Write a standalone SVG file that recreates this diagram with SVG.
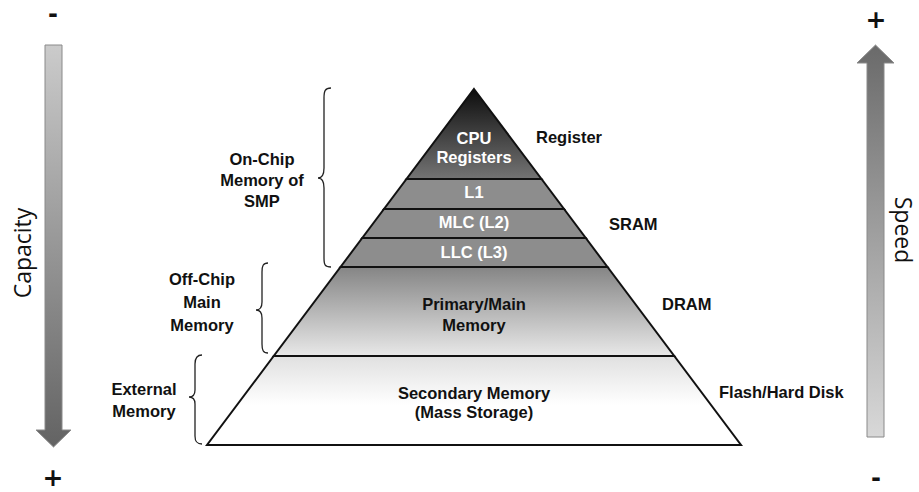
<svg xmlns="http://www.w3.org/2000/svg" width="919" height="492" viewBox="0 0 919 492">
<style>
.lbl{font-family:"Liberation Sans",Arial,sans-serif;font-weight:bold;font-size:16.5px;fill:#111;text-anchor:middle}
.lft{font-family:"Liberation Sans",Arial,sans-serif;font-weight:bold;font-size:16.5px;fill:#111;text-anchor:start}
.wht{font-family:"Liberation Sans",Arial,sans-serif;font-weight:bold;font-size:16.5px;fill:#fff;text-anchor:middle}
.axis{font-family:"Open Sans","DejaVu Sans",sans-serif;font-size:23px;fill:#111;text-anchor:middle}
.plus{font-family:"DejaVu Sans",sans-serif;font-weight:bold;font-size:25px;fill:#111;text-anchor:middle}
.minus{font-family:"DejaVu Sans",sans-serif;font-weight:bold;font-size:24px;fill:#111;text-anchor:middle}
.lvl{stroke:#111;stroke-width:2;stroke-linejoin:miter}
.brace{fill:none;stroke:#222;stroke-width:1.3}
</style>
<defs>
<linearGradient id="gTop" x1="0" y1="89" x2="0" y2="179" gradientUnits="userSpaceOnUse">
<stop offset="0" stop-color="#0d0d0d"/><stop offset="1" stop-color="#747474"/>
</linearGradient>
<linearGradient id="gMain" x1="0" y1="267" x2="0" y2="356" gradientUnits="userSpaceOnUse">
<stop offset="0" stop-color="#858585"/><stop offset="1" stop-color="#e8e8e8"/>
</linearGradient>
<linearGradient id="gSec" x1="0" y1="356" x2="0" y2="445" gradientUnits="userSpaceOnUse">
<stop offset="0" stop-color="#e0e0e0"/><stop offset="0.55" stop-color="#ffffff"/><stop offset="1" stop-color="#ffffff"/>
</linearGradient>
<linearGradient id="gCap" x1="0" y1="45" x2="0" y2="447" gradientUnits="userSpaceOnUse">
<stop offset="0" stop-color="#cbcbcb"/><stop offset="1" stop-color="#636363"/>
</linearGradient>
<linearGradient id="gSpd" x1="0" y1="45" x2="0" y2="437" gradientUnits="userSpaceOnUse">
<stop offset="0" stop-color="#6a6a6a"/><stop offset="1" stop-color="#d8d8d8"/>
</linearGradient>
</defs>

<g id="capacity-axis">
<polygon points="45,45 62,45 62,430 71,430 53.5,447 36,430 45,430" fill="url(#gCap)" stroke="#8a8a8a" stroke-width="1"/>
<text class="minus" x="53" y="22">-</text>
<text class="plus" x="53" y="486">+</text>
<text class="axis" transform="translate(31,253) rotate(-90)" x="0" y="0">Capacity</text>
</g>

<g id="speed-axis">
<polygon points="867,437 884,437 884,63 894,63 875.5,45 857,63 867,63" fill="url(#gSpd)" stroke="#8a8a8a" stroke-width="1"/>
<text class="plus" x="876" y="28">+</text>
<text class="minus" x="876" y="486">-</text>
<text class="axis" transform="translate(895,230) rotate(90)" x="0" y="0">Speed</text>
</g>

<g id="cpu-registers">
<polygon class="lvl" points="474,89 541.5,179 406.5,179" fill="url(#gTop)"/>
<text class="wht" x="474" y="144">CPU</text>
<text class="wht" x="474" y="163">Registers</text>
</g>
<g id="l1">
<polygon class="lvl" points="406.5,179 541.5,179 564,209 384,209" fill="#8d8d8d"/>
<text class="wht" x="474" y="198">L1</text>
</g>
<g id="l2">
<polygon class="lvl" points="384,209 564,209 585.75,238 362.25,238" fill="#8d8d8d"/>
<text class="wht" x="474" y="228">MLC (L2)</text>
</g>
<g id="l3">
<polygon class="lvl" points="362.25,238 585.75,238 607.5,267 340.5,267" fill="#8d8d8d"/>
<text class="wht" x="474" y="258">LLC (L3)</text>
</g>
<g id="main-memory">
<polygon class="lvl" points="340.5,267 607.5,267 674.25,356 273.75,356" fill="url(#gMain)"/>
<text class="lbl" x="474" y="310">Primary/Main</text>
<text class="lbl" x="474" y="331">Memory</text>
</g>
<g id="secondary-memory">
<polygon class="lvl" points="273.75,356 674.25,356 741,445 207,445" fill="url(#gSec)"/>
<text class="lbl" x="474" y="399">Secondary Memory</text>
<text class="lbl" x="474" y="418">(Mass Storage)</text>
</g>

<g id="on-chip">
<path class="brace" d="M331,88 C325,88 324,91 324,98 L324,168 C324,175 322,178 318,178 C322,178 324,181 324,188 L324,258 C324,265 325,267 331,267"/>
<text class="lbl" x="262" y="165">On-Chip</text>
<text class="lbl" x="262" y="186">Memory of</text>
<text class="lbl" x="262" y="207">SMP</text>
</g>
<g id="off-chip">
<path class="brace" d="M268,263 C263,263 262,266 262,272 L262,302 C262,308 260,310 256,310 C260,310 262,312 262,318 L262,344 C262,350 263,353 268,353"/>
<text class="lbl" x="202" y="285">Off-Chip</text>
<text class="lbl" x="202" y="308">Main</text>
<text class="lbl" x="202" y="331">Memory</text>
</g>
<g id="external">
<path class="brace" d="M202,355 C197,355 195,358 195,364 L195,390 C195,395 193,397 189,397 C193,397 195,399 195,404 L195,436 C195,442 197,444 202,444"/>
<text class="lbl" x="144" y="395">External</text>
<text class="lbl" x="144" y="417">Memory</text>
</g>

<g id="tech-labels">
<text class="lft" x="536" y="143">Register</text>
<text class="lft" x="609" y="230">SRAM</text>
<text class="lft" x="662" y="310">DRAM</text>
<text class="lft" x="719" y="398">Flash/Hard Disk</text>
</g>
<g id="connectors"></g>
</svg>
